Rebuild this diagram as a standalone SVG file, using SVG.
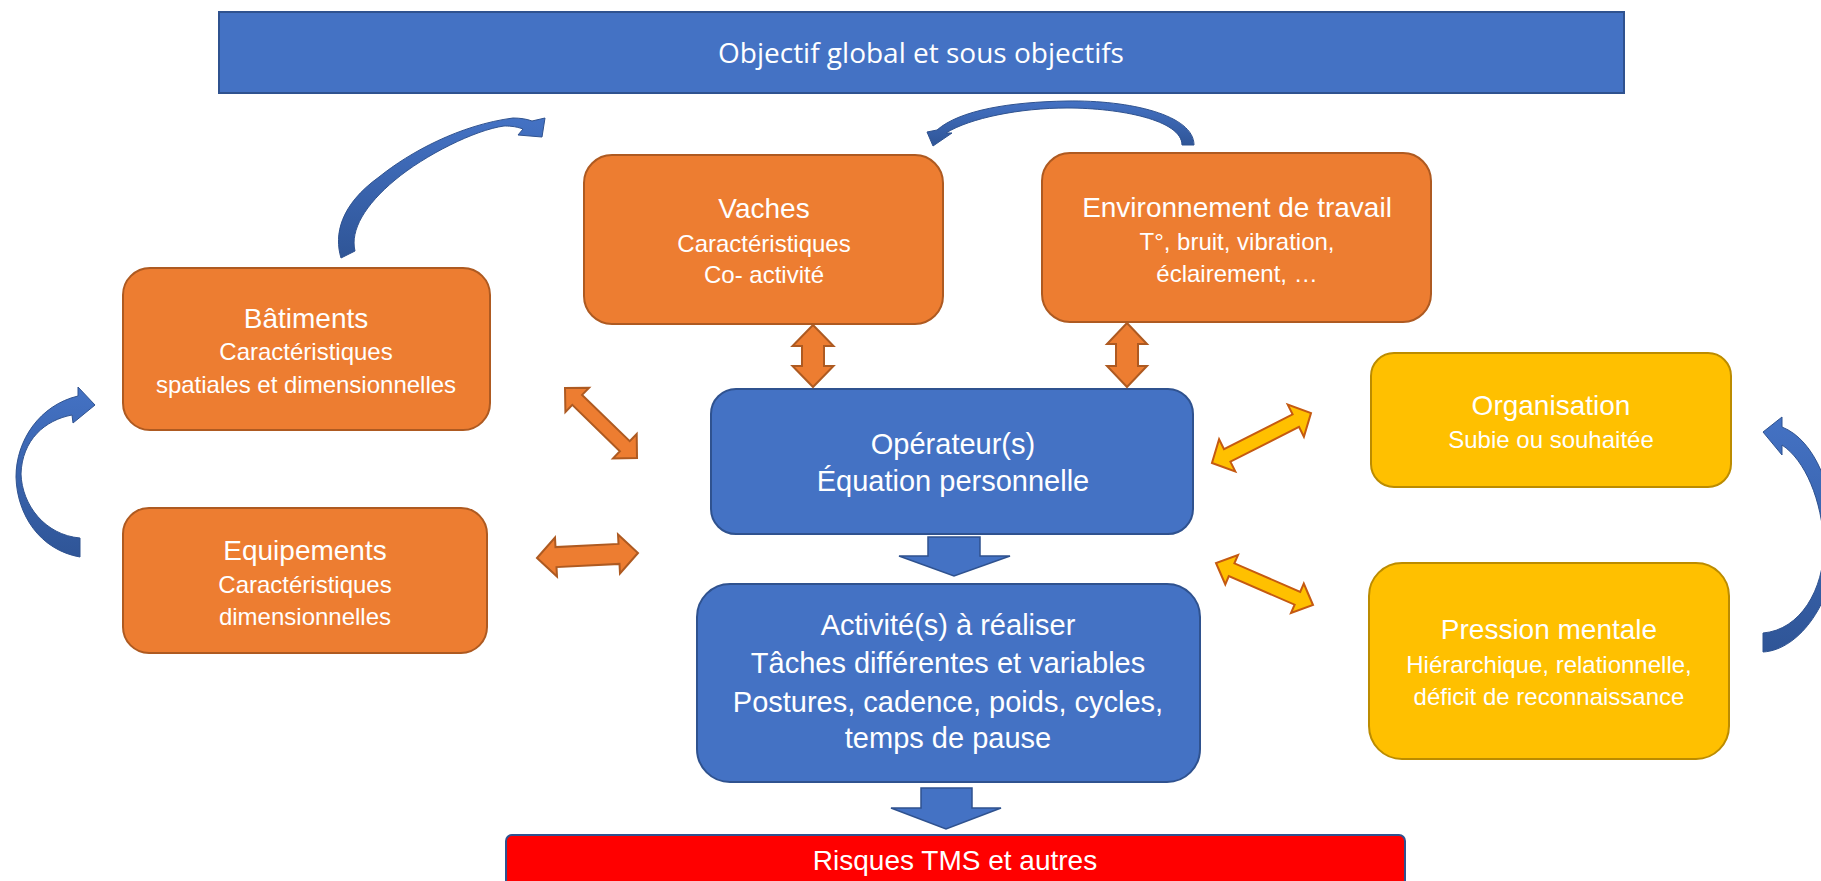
<svg xmlns="http://www.w3.org/2000/svg" width="1821" height="881" viewBox="0 0 1821 881">
<defs>
<style>
.blue{fill:#4472C4;stroke:#2F528F;stroke-width:2}
.orange{fill:#ED7D31;stroke:#AE5A21;stroke-width:2}
.yellow{fill:#FFC000;stroke:#BC8C00;stroke-width:2}
.red{fill:#FF0000;stroke:#2F528F;stroke-width:2}
.oarrow{fill:#ED7D31;stroke:#AE5A21;stroke-width:2;stroke-linejoin:miter}
.yarrow{fill:#FFC000;stroke:#C55A11;stroke-width:2;stroke-linejoin:miter}
.barrow{fill:#4472C4;stroke:#2F528F;stroke-width:1.5}
.carrow{fill:url(#cg);stroke:#2F528F;stroke-width:1}
text{fill:#FFFFFF;font-family:"Liberation Sans",Arial,sans-serif;text-anchor:middle}
.t{font-size:28px}
.s{font-size:24px}
.b{font-size:29px}
.top{font-family:"Open Sans","Liberation Sans",sans-serif;font-size:28px}
</style>
<linearGradient id="cg" x1="0" y1="0" x2="0" y2="1">
<stop offset="0" stop-color="#4472C4"/>
<stop offset="1" stop-color="#2F5597"/>
</linearGradient>
</defs>
<rect width="1821" height="881" fill="#FFFFFF"/>

<g id="objectif">
<rect class="blue" x="219" y="12" width="1405" height="81"/>
<text class="top" x="921" y="63">Objectif global et sous objectifs</text>
</g>

<g id="batiments">
<rect class="orange" x="123" y="268" width="367" height="162" rx="27" ry="27"/>
<text class="t" x="306" y="328">Bâtiments</text>
<text class="s" x="306" y="360">Caractéristiques</text>
<text class="s" x="306" y="393">spatiales et dimensionnelles</text>
</g>

<g id="vaches">
<rect class="orange" x="584" y="155" width="359" height="169" rx="28" ry="28"/>
<text class="t" x="764" y="218">Vaches</text>
<text class="s" x="764" y="252">Caractéristiques</text>
<text class="s" x="764" y="283">Co- activité</text>
</g>

<g id="environnement">
<rect class="orange" x="1042" y="153" width="389" height="169" rx="28" ry="28"/>
<text class="t" x="1237" y="217">Environnement de travail</text>
<text class="s" x="1237" y="250">T°, bruit, vibration,</text>
<text class="s" x="1237" y="282">éclairement, …</text>
</g>

<g id="equipements">
<rect class="orange" x="123" y="508" width="364" height="145" rx="26" ry="26"/>
<text class="t" x="305" y="560">Equipements</text>
<text class="s" x="305" y="593">Caractéristiques</text>
<text class="s" x="305" y="625">dimensionnelles</text>
</g>

<g id="operateur">
<rect class="blue" x="711" y="389" width="482" height="145" rx="25" ry="25"/>
<text class="b" x="953" y="454">Opérateur(s)</text>
<text class="b" x="953" y="491">Équation personnelle</text>
</g>

<g id="activite">
<rect class="blue" x="697" y="584" width="503" height="198" rx="33" ry="33"/>
<text class="b" x="948" y="635">Activité(s) à réaliser</text>
<text class="b" x="948" y="673">Tâches différentes et variables</text>
<text class="b" x="948" y="712">Postures, cadence, poids, cycles,</text>
<text class="b" x="948" y="748">temps de pause</text>
</g>

<g id="organisation">
<rect class="yellow" x="1371" y="353" width="360" height="134" rx="23" ry="23"/>
<text class="t" x="1551" y="415">Organisation</text>
<text class="s" x="1551" y="448">Subie ou souhaitée</text>
</g>

<g id="pression">
<rect class="yellow" x="1369" y="563" width="360" height="196" rx="33" ry="33"/>
<text class="t" x="1549" y="639">Pression mentale</text>
<text class="s" x="1549" y="673">Hiérarchique, relationnelle,</text>
<text class="s" x="1549" y="705">déficit de reconnaissance</text>
</g>

<g id="risques">
<rect class="red" x="506" y="835" width="899" height="60" rx="6" ry="6"/>
<text class="t" x="955" y="870">Risques TMS et autres</text>
</g>

<g id="connectors">
<!-- vertical orange double arrows -->
<polygon class="oarrow" points="813,325 833.5,346 824,346 824,366 833.5,366 813,387 792.5,366 802,366 802,346 792.5,346"/>
<polygon class="oarrow" points="1127,323 1147,344 1138,344 1138,366 1147,366 1127,387 1107,366 1116,366 1116,344 1107,344"/>
<!-- diagonal orange double arrow -->
<polygon class="oarrow" points="565,388 565.4,412.1 572.3,404.9 619.9,451.2 613,458.4 637,458 636.7,434 629.7,441.2 582.1,394.9 589.1,387.7"/>
<!-- horizontal orange double arrow -->
<polygon class="oarrow" points="537,558 557,576.6 556.5,567.1 619.5,563.9 620,573.4 638,553 618,534.4 618.5,543.9 555.5,547.1 555,537.6"/>
<!-- yellow double arrows -->
<polygon class="yarrow" points="1212,463 1235.3,471.4 1230.4,461.6 1299,426.9 1303.9,436.8 1311,413 1287.7,404.6 1292.6,414.4 1224,449.1 1219.1,439.2"/>
<polygon class="yarrow" points="1216,563 1225.3,584.4 1228.8,576.1 1294.6,604.7 1291,613 1313,605 1303.8,583.6 1300.2,591.9 1234.4,563.3 1238,555"/>
<!-- blue down arrows -->
<polygon class="barrow" points="928,537 980,537 980,556 1010,556 954,576 899,556 928,556"/>
<polygon class="barrow" points="921,788 972,788 972,808 1001,808 946,829 891,808 921,808"/>
<!-- curved arrows -->
<path class="carrow" d="M341,258 C334,235 340,205 379,177 C410,152 460,125 513,118 C520,118 527,119 532,121 L545,118 L542,137 L518,135 L523,129 C515,126 508,126 504,126 C475,130 425,155 395,180 C365,205 350,230 355,251 Z"/>
<path class="carrow" d="M1194,145 C1194,115 1130,100 1067,101 C1010,102 960,110 937,130 L927,132 L933,146 L952,133 L946,133 C970,118 1020,108 1067,108 C1120,108 1182,120 1182,145 Z"/>
<path class="carrow" d="M80,557 C40,550 17,515 16,477 C16,440 40,405 78,396 L78,387 L95,405 L73,423 L72,415 C45,420 22,440 21,474 C22,505 45,535 80,538 Z"/>
<path class="carrow" d="M1763,652 C1800,650 1835,600 1835,545 C1835,490 1815,440 1782,427 L1782,417 L1763,432 L1782,455 L1782,445 C1805,460 1822,500 1824,545 C1824,590 1800,630 1763,633 Z"/>
</g>
</svg>
